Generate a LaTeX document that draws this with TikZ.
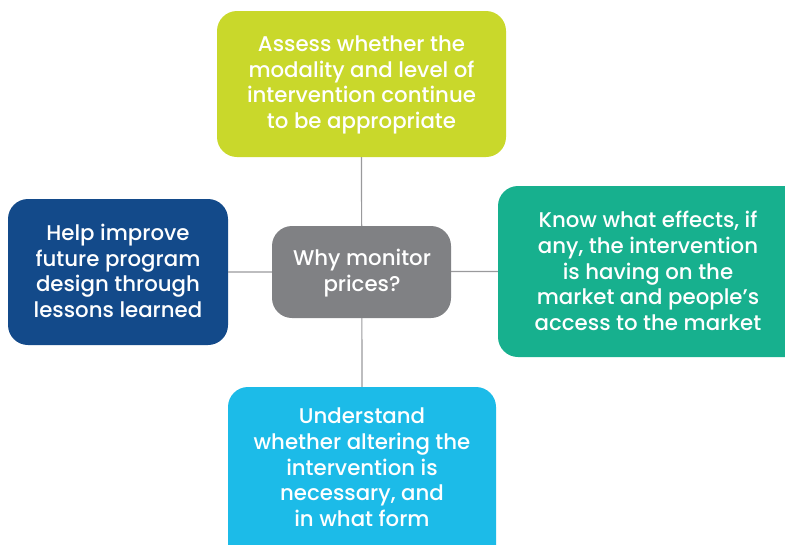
\documentclass[tikz,border=0pt]{standalone}
\usepackage{fontspec}
\setmainfont{Poppins}[UprightFont={* Medium}]
\definecolor{lime}{HTML}{C9D82B}
\definecolor{teal}{HTML}{17B08E}
\definecolor{sky}{HTML}{1CBBE8}
\definecolor{navy}{HTML}{134A8A}
\definecolor{midgray}{HTML}{808184}
\definecolor{linegray}{HTML}{9A9A9C}
\begin{document}
\begin{tikzpicture}[x=1pt,y=-1pt,
  box/.style={rounded corners=20pt, draw=none},
  lbl/.style={text=white, align=center, font=\fontsize{21.3}{25.7}\selectfont},
  link/.style={draw=linegray, line width=1.2pt}]
\useasboundingbox (0,0) rectangle (785,544);
\clip (0,0) rectangle (785,544);
\node[box, fill=lime, minimum width=289pt, minimum height=146pt] (top) at (361.5,84) {};
\node[box, fill=teal, minimum width=310pt, minimum height=171pt] (right) at (653,271.5) {};
\node[box, fill=sky, minimum width=268pt, minimum height=190pt] (bot) at (362,482) {};
\node[box, fill=navy, minimum width=220pt, minimum height=146pt] (left) at (118,272) {};
\draw[link] (top.south) -- (bot.north);
\draw[link] (left.east) -- (right.west);
\node[box, fill=midgray, minimum width=179pt, minimum height=92pt] (mid) at (361.5,272) {};
\node[lbl] at (361.5,85) {Assess whether the\\modality and level of\\intervention continue\\to be appropriate};
\node[lbl] at (648,271) {Know what effects, if\\any, the intervention\\is having on the\\market and people’s\\access to the market};
\node[lbl] at (362,467.5) {Understand\\whether altering the\\intervention is\\necessary, and\\in what form};
\node[lbl] at (118,271) {Help improve\\future program\\design through\\lessons learned};
\node[lbl] at (362,273) {Why monitor\\prices?};
\end{tikzpicture}
\end{document}
